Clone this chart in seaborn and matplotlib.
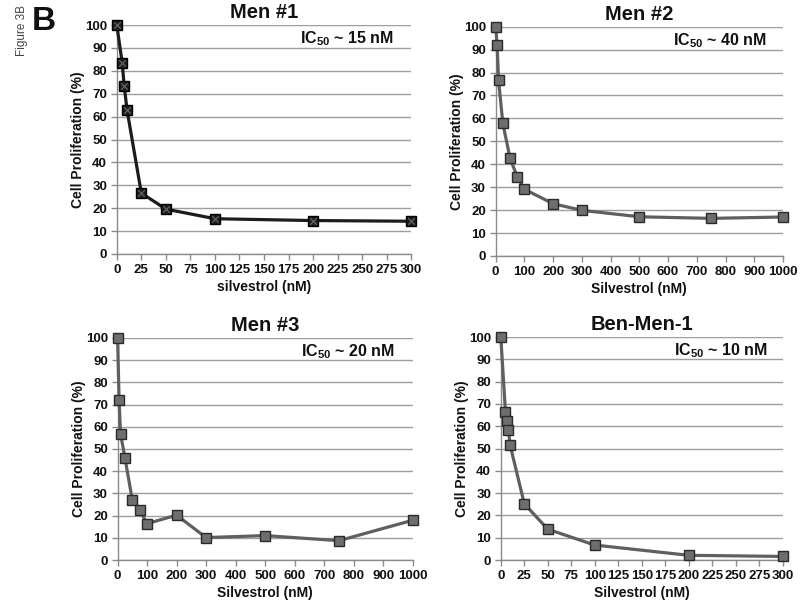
import matplotlib
matplotlib.use("Agg")
import matplotlib.pyplot as plt
import numpy as np
import pandas as pd
import seaborn as sns

# ---------------- data ----------------
men1_x = [0, 5.5, 7.5, 10.5, 25, 50, 100, 200, 300]
men1_y = [100, 83.5, 73.5, 62.7, 26.6, 19.6, 15.4, 14.6, 14.3]

men2_x = [0, 5, 10, 25, 50, 75, 100, 200, 300, 500, 750, 1000]
men2_y = [100, 92.0, 76.6, 57.8, 42.6, 34.6, 29.1, 22.8, 19.9, 17.1, 16.4, 17.0]

men3_x = [0, 5, 10, 25, 50, 75, 100, 200, 300, 500, 750, 1000]
men3_y = [100, 71.9, 56.8, 45.9, 26.9, 22.4, 16.4, 20.2, 10.1, 11.0, 8.7, 17.9]

ben_x = [0, 5, 6.5, 8, 10, 25, 50, 100, 200, 300]
ben_y = [100, 66.3, 62.4, 58.4, 51.4, 25.2, 13.8, 6.7, 2.1, 1.6]

titles = ["Men #1", "Men #2", "Men #3", "Ben-Men-1"]
ic50_labels = ["15", "40", "20", "10"]
xlabels = ["silvestrol (nM)", "Silvestrol (nM)", "Silvestrol (nM)", "Silvestrol (nM)"]
ylabel = "Cell Proliferation (%)"
xticks_300 = list(range(0, 301, 25))
xticks_1000 = list(range(0, 1001, 100))
yticks = list(range(0, 101, 10))

# ---------------- style ----------------
sns.set_theme(style="ticks")
plt.rcParams["font.family"] = ["Liberation Sans", "DejaVu Sans"]
plt.rcParams["font.weight"] = "bold"
plt.rcParams["mathtext.fontset"] = "custom"
plt.rcParams["mathtext.rm"] = "Liberation Sans:bold"
plt.rcParams["mathtext.bf"] = "Liberation Sans:bold"
plt.rcParams["mathtext.it"] = "Liberation Sans:bold"

fig = plt.figure(figsize=(8, 6.03), dpi=100)

panels = [
    dict(x=men1_x, y=men1_y, xt=xticks_300, rect=[0.146, 0.5788, 0.368, 0.3797],
         line="#1c1c1c", face="#1e1e1e", edge="#000000", cross=True),
    dict(x=men2_x, y=men2_y, xt=xticks_1000, rect=[0.6196, 0.5755, 0.3591, 0.3802],
         line="#5f5f5f", face="#6e6e6e", edge="#2a2a2a", cross=False),
    dict(x=men3_x, y=men3_y, xt=xticks_1000, rect=[0.147, 0.0713, 0.3688, 0.3682],
         line="#5f5f5f", face="#6e6e6e", edge="#2a2a2a", cross=False),
    dict(x=ben_x, y=ben_y, xt=xticks_300, rect=[0.626, 0.0713, 0.3524, 0.3698],
         line="#5f5f5f", face="#6e6e6e", edge="#2a2a2a", cross=False),
]

for i, p in enumerate(panels):
    ax = fig.add_axes(p["rect"])
    df = pd.DataFrame({"dose": p["x"], "prolif": p["y"]})
    sns.lineplot(data=df, x="dose", y="prolif", ax=ax, color=p["line"], lw=2.3,
                 marker="s", markersize=7.5, markerfacecolor=p["face"],
                 markeredgecolor=p["edge"], markeredgewidth=1.0, sort=False,
                 clip_on=False, zorder=5)
    if p["cross"]:
        sns.scatterplot(data=df, x="dose", y="prolif", ax=ax, marker="x",
                        s=22, color="#6a6a6a", linewidth=0.8, clip_on=False,
                        zorder=6, legend=False)
    ax.set_xlim(p["xt"][0], p["xt"][-1])
    ax.set_ylim(0, 100)
    ax.set_xticks(p["xt"])
    ax.set_yticks(yticks)
    ax.yaxis.grid(True, color="#9e9e9e", lw=1.0)
    ax.set_axisbelow(True)
    sns.despine(ax=ax, top=True, right=True)
    for s in ["left", "bottom"]:
        ax.spines[s].set_color("#8a8a8a")
        ax.spines[s].set_linewidth(1.0)
    ax.tick_params(axis="both", direction="out", length=4, width=1,
                   color="#8a8a8a", labelsize=9.5, pad=3, labelcolor="#111111")
    ax.set_xlabel(xlabels[i], fontsize=10, fontweight="bold", color="#111111", labelpad=3)
    ax.set_ylabel(ylabel, fontsize=10, fontweight="bold", color="#111111", labelpad=0)
    ax.set_title(titles[i], fontsize=14.5, fontweight="bold", color="#111111", pad=5)
    ax.text(0.78, 0.94, r"IC$_{\mathbf{50}}$ ~ " + ic50_labels[i] + " nM",
            transform=ax.transAxes, ha="center", va="center", fontsize=11.5,
            fontweight="bold", color="#111111")

fig.text(0.028, 0.95, "Figure 3B", rotation=90, ha="center", va="center",
         fontsize=8.5, fontweight="normal", color="#444444")
fig.text(0.055, 0.965, "B", ha="center", va="center", fontsize=24,
         fontweight="bold", color="#111111")

fig.savefig("out.png", dpi=100)
